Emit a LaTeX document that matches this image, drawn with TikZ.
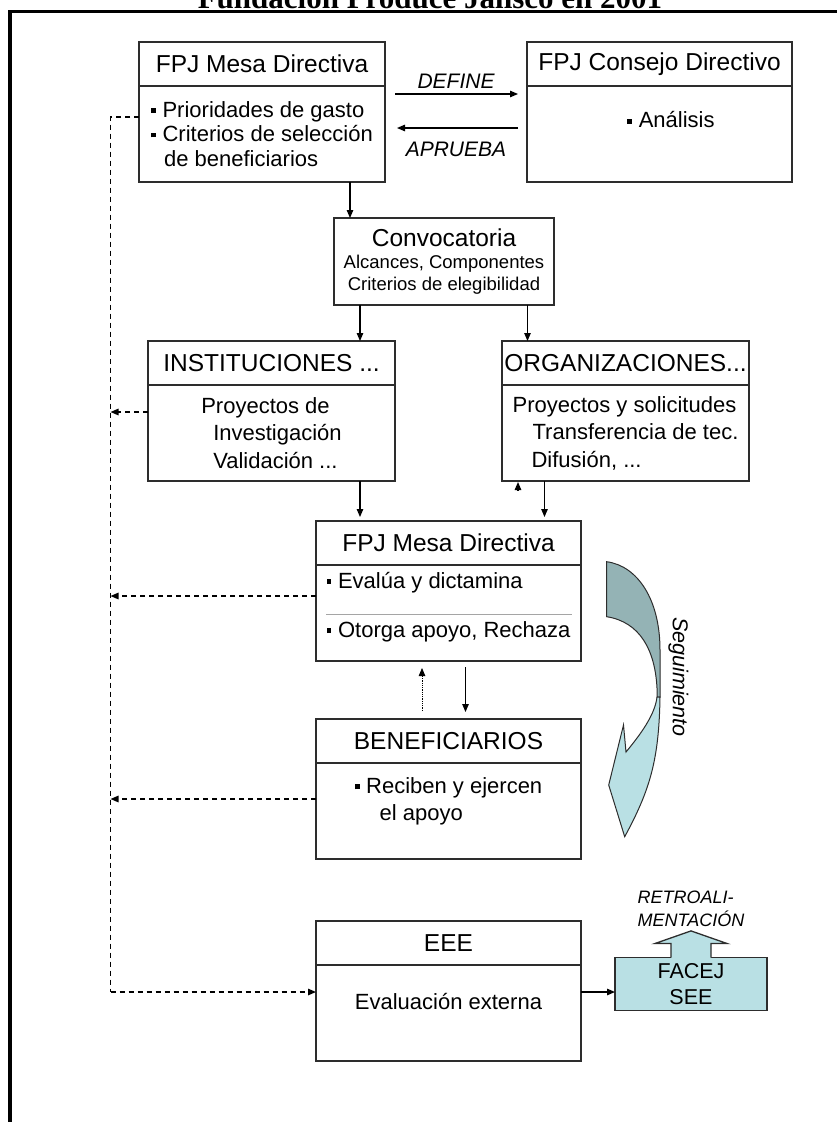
\documentclass[tikz,border=0pt]{standalone}
\usepackage{fontspec}
\setmainfont{Liberation Sans}
\newfontfamily\titlefont{Liberation Serif}
\usepackage{tikz}
\usetikzlibrary{arrows.meta,positioning}
\usepackage{xcolor}
\definecolor{boxline}{RGB}{45,45,45}
\definecolor{segdark}{RGB}{148,179,181}
\definecolor{seglight}{RGB}{185,224,228}
\definecolor{rulegray}{RGB}{165,165,165}
\newcommand{\hdrfont}{\fontsize{24.5}{29}\selectfont}
\newcommand{\txtfont}{\fontsize{22}{24.5}\selectfont}
\newcommand{\smlfont}{\fontsize{18.5}{21.5}\selectfont}
\newcommand{\sqb}{\rule[0.2em]{0.22em}{0.22em}\hspace{0.3em}}

\begin{document}
\begin{tikzpicture}[x=1pt, y=1pt,
    hdr/.style={rectangle, draw=boxline, line width=1.3pt, minimum height=44pt,
        inner sep=0pt, outer sep=0pt, font=\hdrfont},
    bdy/.style={rectangle, draw=boxline, line width=1.3pt, minimum height=96pt,
        inner sep=0pt, outer sep=0pt, font=\txtfont, align=left},
    bdytxt/.style={inner sep=0pt, font=\txtfont, align=left},
    wbox/.style={minimum width=265pt},
    nbox/.style={minimum width=247pt},
    lbl/.style={font=\fontsize{21}{24}\selectfont\itshape},
    fb/.style={line width=1.4pt, dash pattern=on 5pt off 4pt},
    >={Triangle[length=8pt,width=6.5pt]}
]
\useasboundingbox (0,0) rectangle (837,-1122);
\clip (0,0) rectangle (837,-1122);

% title and frame
\node[anchor=base, font=\titlefont\bfseries\fontsize{31}{36}\selectfont] (title) at (430,-8.5) {Fundación Produce Jalisco en 2001};
\draw[line width=3.3pt] (10,-1130) -- (10,-11.3) -- (845,-11.3);

% top row
\node[hdr, minimum width=246pt] (mesa1h) at (262,-64) {FPJ Mesa Directiva};
\node[bdy, minimum width=246pt, below=0pt of mesa1h] (mesa1b) {\sqb Prioridades de gasto\\ \sqb Criterios de selección\\ \hspace*{13pt}de beneficiarios};
\node[hdr, wbox, right=142pt of mesa1h] (conh) {FPJ Consejo Directivo};
\node[bdy, wbox, below=0pt of conh] (conb) {};
\node[bdytxt] (cont) at ([xshift=11.5pt,yshift=14pt]conb.center) {\sqb Análisis};

\node[draw=boxline, line width=1.3pt, minimum width=220pt, minimum height=87pt, inner sep=0pt, outer sep=0pt,
    align=center, font=\smlfont, below=36pt of mesa1b, xshift=182pt] (conv)
    {{\hdrfont Convocatoria}\\[1pt] Alcances, Componentes\\ Criterios de elegibilidad};

% second row
\node[hdr, nbox, below=36pt of conv, xshift=-172.5pt] (insth) {INSTITUCIONES ...};
\node[bdy, nbox, below=0pt of insth] (instb) {Proyectos de\\[3pt] \hspace*{12pt}Investigación\\[3pt] \hspace*{12pt}Validación ...};
\node[hdr, nbox, right=107pt of insth] (orgsh) {ORGANIZACIONES...};
\node[bdy, nbox, below=0pt of orgsh] (orgsb) {Proyectos y solicitudes\\[3pt] \hspace*{20pt}Transferencia de tec.\\[3pt] \hspace*{19pt}Difusión, ...};

% middle column
\node[hdr, wbox, below=40pt of instb, xshift=177pt] (mesa2h) {FPJ Mesa Directiva};
\node[bdy, wbox, below=0pt of mesa2h] (mesa2b) {};
\node[bdytxt] (mesa2t) at ([yshift=6pt]mesa2b.center) {\sqb Evalúa y dictamina\\[25pt] \sqb Otorga apoyo, Rechaza};
\draw[rulegray, line width=1.5pt] ([xshift=10pt,yshift=-1.5pt]mesa2b.west) -- ([xshift=-9pt,yshift=-1.5pt]mesa2b.east);

\node[hdr, wbox, below=58pt of mesa2b] (benh) {BENEFICIARIOS};
\node[bdy, wbox, below=0pt of benh] (benb) {};
\node[bdytxt] (bent) at ([yshift=9.5pt]benb.center) {\sqb Reciben y ejercen\\[2.5pt] \hspace*{25pt}el apoyo};

\node[hdr, wbox, below=62pt of benb] (eeeh) {EEE};
\node[bdy, wbox, below=0pt of eeeh] (eeeb) {};
\node[bdytxt] (eeet) at ([yshift=11.5pt]eeeb.center) {Evaluación externa};

\node[draw=boxline, line width=1.3pt, fill=seglight, minimum width=152pt, minimum height=53pt,
    inner sep=0pt, outer sep=0pt, align=center, font=\fontsize{21.5}{26.7}\selectfont,
    right=34pt of eeeb, yshift=29pt] (facej) {FACEJ\\ SEE};
\fill[seglight] ([xshift=-20pt,yshift=-1.5pt]facej.north) -- ++(0,15.5) -- ++(-16,0) -- ++(36,12.6)
    -- ++(36,-12.6) -- ++(-16,0) -- ++(0,-15.5) -- cycle;
\draw[boxline, line width=1.3pt] ([xshift=-20pt]facej.north) -- ++(0,14) -- ++(-16,0) -- ++(36,12.6)
    -- ++(36,-12.6) -- ++(-16,0) -- ++(0,-14);
\node[font=\fontsize{18}{23}\selectfont\itshape, align=left, above=27pt of facej] (retro) {RETROALI-\\MENTACIÓN};

% Seguimiento
\filldraw[fill=segdark, draw=boxline, line width=1pt] (606.7,-561.7) .. controls (638,-566) and (660,-600) .. (660,-650)
    -- (660,-697) -- (657,-697) -- (657,-688) .. controls (655,-650) and (640,-622) .. (606.7,-616.7) -- cycle;
\filldraw[fill=seglight, draw=boxline, line width=1pt] (660,-697) .. controls (659,-760) and (650,-790) .. (624.7,-836.7)
    -- (608.7,-785) -- (623.5,-725) -- (626,-752) .. controls (640,-735) and (655,-715) .. (657,-697) -- cycle;
\node[rotate=-90, font=\fontsize{21.5}{24}\selectfont\itshape] (segui) at (678.5,-677) {Seguimiento};

% arrows
\draw[->, line width=1.2pt, shorten <=10pt, shorten >=9pt] ([yshift=40pt]mesa1b.east) -- ([yshift=40pt]conb.west)
    node[midway, above=2pt, lbl] {DEFINE};
\draw[->, line width=1.2pt, shorten <=9pt, shorten >=12pt] ([yshift=6pt]conb.west) -- ([yshift=6pt]mesa1b.east)
    node[midway, below=10pt, lbl] {APRUEBA};
\draw[->, line width=1.2pt] ([xshift=88pt]mesa1b.south) -- ([xshift=88pt]mesa1b.south |- conv.north);
\draw[->, line width=1.2pt] ([xshift=-84pt]conv.south) -- ([xshift=-84pt]conv.south |- insth.north);
\draw[->, line width=1.2pt] ([xshift=83.5pt]conv.south) -- ([xshift=83.5pt]conv.south |- orgsh.north);
\draw[->, line width=1.2pt, shorten >=4pt] ([xshift=88.5pt]instb.south) -- ([xshift=88.5pt]instb.south |- mesa2h.north);
\draw[->, line width=1.2pt, shorten >=4pt] ([xshift=-81pt]orgsb.south) -- ([xshift=-81pt]orgsb.south |- mesa2h.north);
\draw[->, line width=1.2pt] ([xshift=-107.5pt,yshift=-9pt]orgsb.south) -- ([xshift=-107.5pt,yshift=-1pt]orgsb.south);
\draw[->, line width=0.8pt, densely dotted, shorten <=8pt, shorten >=7pt] ([xshift=-26.5pt]benh.north) -- ([xshift=-26.5pt]benh.north |- mesa2b.south);
\draw[->, line width=1.2pt, shorten <=6pt, shorten >=7pt] ([xshift=17pt]mesa2b.south) -- ([xshift=17pt]mesa2b.south |- benh.north);
\draw[->, line width=1.2pt] ([yshift=21pt]eeeb.east) -- ([yshift=21pt]eeeb.east -| facej.west);

% feedback lines
\coordinate (fbtop) at ([xshift=-28.5pt,yshift=17pt]mesa1b.west);
\coordinate (fbbot) at ([yshift=21pt]eeeb.west -| fbtop);
\draw[fb] ([yshift=17pt]mesa1b.west) -- (fbtop) -- (fbbot);
\draw[fb, ->] (fbbot) -- ([yshift=21pt]eeeb.west);
\draw[fb, ->] ([yshift=21pt]instb.west) -- ([yshift=21pt]instb.west -| fbtop);
\draw[fb, ->] ([yshift=17pt]mesa2b.west) -- ([yshift=17pt]mesa2b.west -| fbtop);
\draw[fb, ->] ([yshift=12pt]benb.west) -- ([yshift=12pt]benb.west -| fbtop);
\end{tikzpicture}
\end{document}
